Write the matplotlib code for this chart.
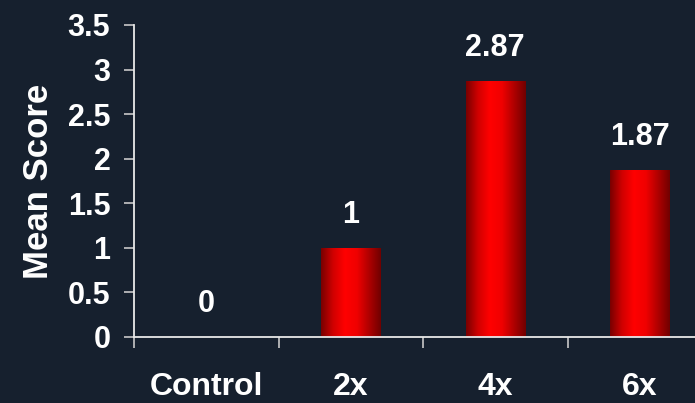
import numpy as np
import matplotlib
matplotlib.use("Agg")
import matplotlib.pyplot as plt
from matplotlib.colors import LinearSegmentedColormap

categories = ["Control", "2x", "4x", "6x"]
scores = [0, 1, 2.87, 1.87]
score_labels = ["0", "1", "2.87", "1.87"]
yticks = [0, 0.5, 1, 1.5, 2, 2.5, 3, 3.5]
ytick_labels = ["0", "0.5", "1", "1.5", "2", "2.5", "3", "3.5"]

bg = "#16202e"
plt.rcParams["font.family"] = ["Liberation Sans", "DejaVu Sans"]
plt.rcParams["font.weight"] = "bold"

fig = plt.figure(figsize=(6.95, 4.03), dpi=100, facecolor=bg)
ax = fig.add_axes([134 / 695, 66 / 403, 578 / 695, 312 / 403], facecolor=bg)

x = np.arange(len(categories))
bar_w = 0.41
bars = ax.bar(x, scores, width=bar_w, color="none", edgecolor="none", zorder=2)

# horizontal red shading like the original bars
shade = LinearSegmentedColormap.from_list(
    "redbar", ["#780000", "#d00000", "#ff0000", "#f00000", "#b00000", "#700000"])
grad = np.linspace(0, 1, 256).reshape(1, -1)
for b in bars:
    if b.get_height() <= 0:
        continue
    x0 = b.get_x()
    im = ax.imshow(grad, cmap=shade, aspect="auto", zorder=2,
                   extent=[x0, x0 + b.get_width(), 0, b.get_height()])
    im.set_clip_path(b)

for xi, v, lab in zip(x, scores, score_labels):
    ax.annotate(lab, (xi, v), xytext=(0, 24), textcoords="offset points",
                ha="center", va="center", color="white", fontsize=22,
                fontweight="bold")

ax.set_xlim(-0.5, len(categories) - 0.5)
ax.set_ylim(0, 3.5)
ax.set_xticks(x)
ax.set_xticklabels(categories)
ax.set_xticks(np.arange(-0.5, len(categories), 1), minor=True)
ax.set_yticks(yticks)
ax.set_yticklabels(ytick_labels)

ax.tick_params(axis="x", which="major", length=0, pad=25, labelsize=23,
               labelcolor="white")
ax.tick_params(axis="x", which="minor", length=8, width=1.2, color="#c8c8c8")
ax.tick_params(axis="y", length=7, width=1.2, color="#c8c8c8", pad=10,
               labelsize=22, labelcolor="white")

for s in ["top", "right"]:
    ax.spines[s].set_visible(False)
for s in ["left", "bottom"]:
    ax.spines[s].set_color("#e8e8e8")
    ax.spines[s].set_linewidth(1.3)

ax.set_ylabel("Mean Score", color="white", fontsize=25, fontweight="bold",
              labelpad=9)

fig.savefig("out.png", dpi=100, facecolor=bg)
